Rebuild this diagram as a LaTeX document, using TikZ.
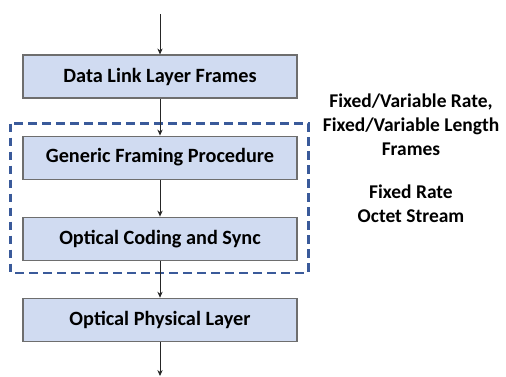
\documentclass[tikz,border=0pt]{standalone}
\usepackage{fontspec}
\setmainfont{Carlito}
\usetikzlibrary{arrows.meta, positioning}
\definecolor{cBox}   {HTML}{D0DBF1}
\definecolor{cEdge}  {HTML}{6E6E6E}
\definecolor{cDash}  {HTML}{3A5A9A}

\begin{document}
\begin{tikzpicture}[x=0.75pt, y=-0.75pt,
        layer/.style = {draw=cEdge, fill=cBox, line width=0.8pt, minimum width=205.5pt, minimum height=32.25pt, inner sep=0pt, align=center, font=\bfseries\fontsize{15.2}{17}\selectfont},
        note/.style = {align=center, font=\bfseries\fontsize{14.6}{18}\selectfont},
        flow/.style = {draw=black!85, line width=0.6pt, -{Stealth[length=4.5pt, width=4pt]}},
        dashbox/.style = {draw=cDash, line width=1.6pt, dash pattern=on 6.5pt off 4pt} ]
      \useasboundingbox (0,0) rectangle (506,376);
      \coordinate (in) at (160,14);
      \node[layer] (dll) at (160,76.5) {Data Link Layer Frames};
      \node[layer, below=27.75pt of dll] (gfp) {Generic Framing Procedure};
      \node[layer, below=27.75pt of gfp] (ocs) {Optical Coding and Sync};
      \node[layer, below=27.75pt of ocs] (opl) {Optical Physical Layer};
      \coordinate (out) at (160,376);
      \draw[dashbox] ([xshift=-9pt, yshift=9pt]gfp.north west) rectangle ([xshift=8.25pt, yshift=-9pt]ocs.south east);
      \draw[flow] (in) -- (dll);
      \draw[flow] (dll) -- (gfp);
      \draw[flow] (gfp) -- (ocs);
      \draw[flow] (ocs) -- (opl);
      \draw[flow] (opl) -- (out);
      \node[note] (rate) at (411,125) {Fixed/Variable Rate,\\Fixed/Variable Length\\Frames};
      \node[note] (octet) at (411,204) {Fixed Rate\\Octet Stream};
    \end{tikzpicture}
\end{document}
